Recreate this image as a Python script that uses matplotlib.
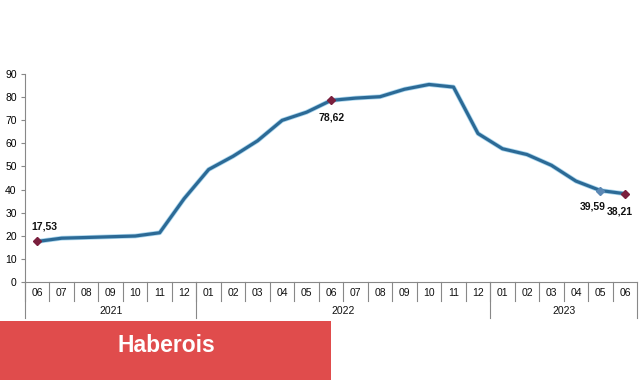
import matplotlib.pyplot as plt

plt.rcParams['font.family'] = ['Liberation Sans', 'DejaVu Sans']

months = ['06', '07', '08', '09', '10', '11', '12',
          '01', '02', '03', '04', '05', '06', '07', '08', '09', '10', '11', '12',
          '01', '02', '03', '04', '05', '06']
values = [17.53, 18.95, 19.25, 19.58, 19.89, 21.31, 36.08,
          48.69, 54.44, 61.14, 69.97, 73.50, 78.62, 79.60, 80.21, 83.45, 85.51, 84.39, 64.27,
          57.68, 55.18, 50.51, 43.68, 39.59, 38.21]
years = ['2021', '2022', '2023']
year_counts = [7, 12, 6]
# points with a label: index -> (text, dx, dy)
labelled = {0: ('17,53', 0.3, 6.5), 12: ('78,62', 0.0, -7.5),
            23: ('39,59', -0.3, -7.0), 24: ('38,21', -0.2, -7.5)}

x = list(range(len(values)))

fig = plt.figure(figsize=(6.41, 3.8), dpi=100)
ax = fig.add_axes([0.039, 0.258, 0.955, 0.547])

ax.plot(x, values, color='#a9d6ee', lw=3.4, solid_capstyle='round', zorder=2)
ax.plot(x, values, color='#2c6a96', lw=2.3, solid_capstyle='round', zorder=3)

for i in [0, 12, 24]:
    ax.plot(x[i], values[i], marker='D', ms=4.5, color='#7a1f3d', zorder=4)
ax.plot(x[23], values[23], marker='D', ms=4.5, color='#5b88b4', zorder=4)

for i, (txt, dx, dy) in labelled.items():
    ax.text(x[i] + dx, values[i] + dy, txt, ha='center', va='center',
            fontsize=7.5, fontweight='bold', color='#111111')

ax.set_xlim(-0.5, len(values) - 0.5)
ax.set_ylim(0, 90)
ax.set_yticks(range(0, 91, 10))
ax.tick_params(axis='y', labelsize=7.5, length=3, color='#888888', pad=3)
ax.set_xticks([])

for s in ['top', 'right']:
    ax.spines[s].set_visible(False)
ax.spines['left'].set_color('#888888')
ax.spines['bottom'].set_color('#888888')

tr = ax.get_xaxis_transform()
# month separators and labels
for i, m in enumerate(months):
    ax.text(i, -0.055, m, transform=tr, ha='center', va='center', fontsize=7.5, color='#111111')
    ax.plot([i - 0.5, i - 0.5], [0, -0.09], transform=tr, color='#888888', lw=0.8, clip_on=False)

# year separators and labels
start = -0.5
bounds = [start]
for y, n in zip(years, year_counts):
    ax.text(start + n / 2, -0.14, y, transform=tr, ha='center', va='center', fontsize=7.5, color='#111111')
    start += n
    bounds.append(start)
for b in bounds:
    ax.plot([b, b], [0, -0.175], transform=tr, color='#888888', lw=0.8, clip_on=False)

# banner
fig.patches.append(plt.Rectangle((0, 0), 331 / 641, 59 / 380, transform=fig.transFigure,
                                 facecolor='#e04c4c', edgecolor='none', zorder=5))
fig.text(166 / 641, 1 - 346 / 380, 'Haberois', ha='center', va='center', color='white',
         fontsize=16.5, fontweight='bold', zorder=6)

fig.savefig('out.png', dpi=100)
